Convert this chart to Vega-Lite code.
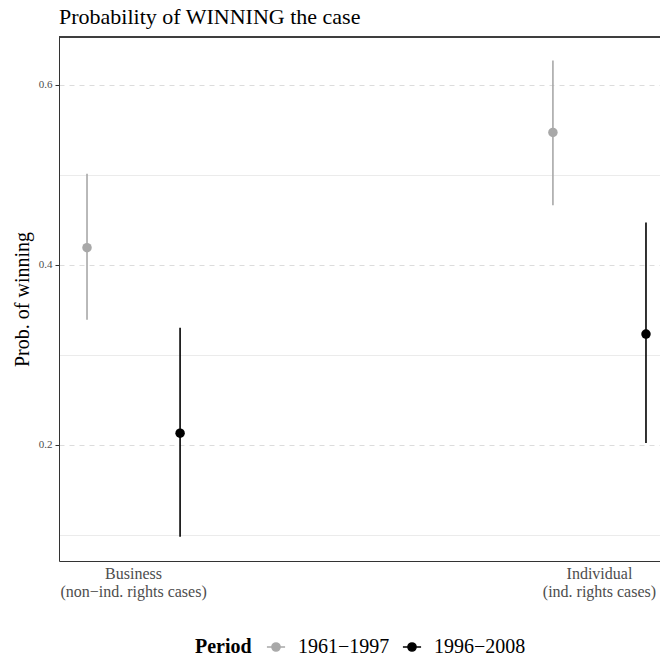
{
  "$schema": "https://vega.github.io/schema/vega-lite/v6.json",
  "width": 601,
  "height": 524,
  "autosize": {"type": "none"},
  "padding": {"left": 59, "top": 37, "right": 0, "bottom": 100},
  "background": "white",
  "config": {
    "font": "Liberation Serif",
    "view": {"stroke": null}
  },
  "title": {
    "text": "Probability of WINNING the case",
    "anchor": "start",
    "frame": "group",
    "fontSize": 22,
    "fontWeight": "normal",
    "font": "Liberation Serif",
    "color": "#000000",
    "offset": 8
  },
  "data": {
    "values": [
      {"case": "Business", "period": "1961−1997", "p": 0.419, "lo": 0.339, "hi": 0.501},
      {"case": "Business", "period": "1996−2008", "p": 0.213, "lo": 0.098, "hi": 0.330},
      {"case": "Individual", "period": "1961−1997", "p": 0.547, "lo": 0.466, "hi": 0.627},
      {"case": "Individual", "period": "1996−2008", "p": 0.323, "lo": 0.202, "hi": 0.447}
    ]
  },
  "layer": [
    {
      "mark": {"type": "rule", "strokeWidth": 1.6},
      "encoding": {
        "x": {"field": "case", "type": "nominal", "sort": ["Business", "Individual"],
          "scale": {"range": [0, 615], "paddingInner": 0.68, "paddingOuter": 0},
          "axis": {"title": null, "orient": "bottom", "ticks": false, "grid": false, "labelAngle": 0, "labelFontSize": 16, "labelColor": "#4d4d4d", "labelLineHeight": 18, "labelPadding": 4, "labelExpr": "datum.value == 'Business' ? ['Business', '(non−ind. rights cases)'] : ['Individual', '(ind. rights cases)']", "domainColor": "#333333"}},
        "xOffset": {"field": "period", "type": "nominal", "scale": {"paddingInner": 0.5, "paddingOuter": 0.051}},
        "y": {"field": "lo", "type": "quantitative",
          "scale": {"domain": [0.071, 0.653], "nice": false, "zero": false},
          "axis": {"title": "Prob. of winning", "values": [0.1, 0.2, 0.3, 0.4, 0.5, 0.6], "format": ".1f",
            "labelExpr": "round(datum.value*10) % 2 == 1 ? '' : datum.label",
            "labelFontSize": 11, "labelColor": "#4d4d4d", "labelPadding": 3, "tickSize": 4,
            "tickColor": {"condition": {"test": "round(datum.value*10) % 2 == 1", "value": "transparent"}, "value": "#333333"},
            "gridColor": {"condition": {"test": "round(datum.value*10) % 2 == 1", "value": "#ebebeb"}, "value": "#dcdcdc"},
            "gridDash": {"condition": {"test": "round(datum.value*10) % 2 == 1", "value": []}, "value": [5, 5]},
            "grid": true, "domainColor": "#333333", "titleFontSize": 20, "titleFontWeight": "normal", "titleColor": "#000000", "titlePadding": 6}},
        "y2": {"field": "hi"},
        "color": {"field": "period", "type": "nominal", "scale": {"domain": ["1961−1997", "1996−2008"], "range": ["#a8a8a8", "#000000"]},
          "legend": {"orient": "none", "legendX": 136, "legendY": 600, "direction": "horizontal", "title": "Period", "titleOrient": "left", "titleFontSize": 20, "titleFontWeight": "bold", "titleColor": "#000000", "labelFontSize": 20, "labelColor": "#000000", "symbolType": "M-1,0L1,0M0.45,0A0.45,0.45,0,1,1,-0.45,0A0.45,0.45,0,1,1,0.45,0Z", "symbolSize": 330, "symbolStrokeWidth": 1.5, "columnPadding": 9, "labelOffset": 12, "titlePadding": 14}}
      }
    },
    {
      "mark": {"type": "point", "filled": true, "size": 90, "opacity": 1},
      "encoding": {
        "x": {"field": "case", "type": "nominal", "sort": ["Business", "Individual"]},
        "xOffset": {"field": "period", "type": "nominal"},
        "y": {"field": "p", "type": "quantitative"},
        "color": {"field": "period", "type": "nominal"}
      }
    },
    {
      "mark": {"type": "rule", "color": "#333333", "strokeWidth": 1},
      "encoding": {
        "y": {"datum": 0.653, "type": "quantitative"}
      }
    }
  ]
}
